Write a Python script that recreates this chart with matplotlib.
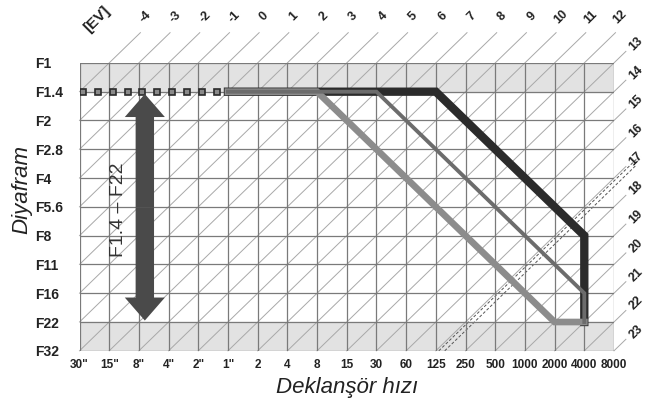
import numpy as np
import matplotlib
matplotlib.use("Agg")
import matplotlib.pyplot as plt

plt.rcParams['font.family'] = ['Liberation Sans', 'DejaVu Sans']

# axis categories
shutter = ['30"', '15"', '8"', '4"', '2"', '1"', '2', '4', '8', '15', '30', '60',
           '125', '250', '500', '1000', '2000', '4000', '8000']
aperture = ['F1', 'F1.4', 'F2', 'F2.8', 'F4', 'F5.6', 'F8', 'F11', 'F16', 'F22', 'F32']
ev_top = list(range(-4, 13))
ev_right = list(range(13, 24))

# program lines (shutter, aperture)
dark_s = ['1"', '125', '4000', '4000']
dark_a = ['F1.4', 'F1.4', 'F8', 'F22']
mid_s = ['1"', '30', '4000', '4000']
mid_a = ['F1.4', 'F1.4', 'F16', 'F22']
light_s = ['1"', '8', '2000', '4000']
light_a = ['F1.4', 'F1.4', 'F22', 'F22']

# range arrow
range_lo, range_hi = 'F1.4', 'F22'
range_col = '8"'


def sx(names):
    return [shutter.index(n) for n in names]


def ay(names):
    return [aperture.index(n) for n in names]


fig = plt.figure(figsize=(6.48, 4.07), dpi=100)
ax = fig.add_axes([79.5/648, 1-350.8/407, (614-79.5)/648, (350.8-62.9)/407])
ax.set_xlim(0, len(shutter)-1)
ax.set_ylim(len(aperture)-1, 0)

# shaded rows
ax.axhspan(0, 1, color='#e2e2e2', zorder=0)
ax.axhspan(9, 10, color='#e2e2e2', zorder=0)

# EV diagonals (constant EV: col + row = n)
cmax, rmin = 18.4, -1.05
for n in range(1, 29):
    r0 = min(10, n)
    r1 = max(rmin, n - cmax)
    if r1 >= r0:
        continue
    ax.plot([n - r0, n - r1], [r0, r1], color='#a8a8a8', lw=0.7, zorder=1, clip_on=False)

# dashed double line
for n in (22.1, 22.3):
    ax.plot([n - 10, 18.75], [10, n - 18.75], color='#555555', lw=0.7,
            dashes=(3, 2), zorder=1, clip_on=False)

# grid
for i in range(len(shutter)):
    ax.axvline(i, color='#7a7a7a', lw=0.9, zorder=2)
for j in range(len(aperture)):
    ax.axhline(j, color='#7a7a7a', lw=0.9, zorder=2)
for s in ax.spines.values():
    s.set_visible(False)

# program lines
ax.plot(sx(dark_s), ay(dark_a), color='#2b2b2b', lw=6.0, solid_joinstyle='miter', zorder=4)
ax.plot(sx(light_s), ay(light_a), color='#8c8c8c', lw=4.8, solid_joinstyle='miter', zorder=5)
ax.plot(sx(mid_s), ay(mid_a), color='#6c6c6c', lw=2.8, solid_joinstyle='miter', zorder=6)

# slow-shutter squares along F1.4
sq_x = 0.12 + 0.5*np.arange(10)
ax.plot(sq_x, [aperture.index('F1.4')]*len(sq_x), ls='none', marker='s', ms=5,
        mfc='#8a8a8a', mec='#2b2b2b', mew=1.2, zorder=5)

# range arrow
xc = shutter.index(range_col) + 0.2
y_lo = aperture.index(range_lo) + 0.08
y_hi = aperture.index(range_hi) - 0.05
ym = (y_lo + y_hi) / 2
for yt in (y_lo, y_hi):
    ax.arrow(xc, ym, 0, yt - ym, width=0.62, head_width=1.35, head_length=0.8,
             length_includes_head=True, color='#4a4a4a', lw=0, zorder=7)
ax.text(1.3, 5.1, 'F1.4 – F22', rotation=90, ha='center', va='center',
        fontsize=14, color='#333333', zorder=8)

# ticks
ax.set_xticks(range(len(shutter)))
ax.set_xticklabels(shutter)
ax.set_yticks(range(len(aperture)))
ax.set_yticklabels(aperture)
ax.tick_params(axis='both', length=0, colors='#222222')
ax.tick_params(axis='x', pad=6, labelsize=8.5)
ax.tick_params(axis='y', pad=32, labelsize=10)
for t in ax.get_yticklabels():
    t.set_horizontalalignment('left')
for t in ax.get_xticklabels() + ax.get_yticklabels():
    t.set_fontweight('bold')

# EV scale labels
for k in ev_top:
    ax.text(k + 6.22, -1.6, str(k), rotation=45, ha='center', va='center',
            fontsize=9, fontweight='bold', color='#222222')
for k in ev_right:
    ax.text(18.75, k - 13.65, str(k), rotation=45, ha='center', va='center',
            fontsize=9, fontweight='bold', color='#222222')
ax.text(0.6, -1.5, '[EV]', rotation=45, ha='center', va='center',
        fontsize=11, fontweight='bold', color='#222222')

fig.text(347/648, 1-387/407, 'Deklanşör hızı', ha='center', va='center',
         fontsize=16, style='italic', color='#222222')
fig.text(22/648, 1-190/407, 'Diyafram', rotation=90, ha='center', va='center',
         fontsize=16, style='italic', color='#222222')

fig.savefig('out.png', dpi=100)
